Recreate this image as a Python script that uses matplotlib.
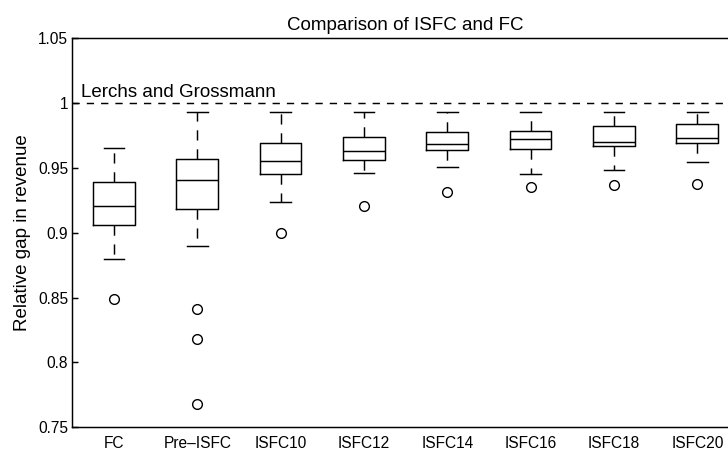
import matplotlib
matplotlib.use("Agg")
import matplotlib.pyplot as plt

plt.rcParams['font.family'] = ['Liberation Sans', 'DejaVu Sans']

# Box-plot summary of the relative revenue gap for each method
categories = ["FC", "Pre\u2013ISFC", "ISFC10", "ISFC12", "ISFC14", "ISFC16", "ISFC18", "ISFC20"]
q1 = [0.9062, 0.9180, 0.9454, 0.9559, 0.9638, 0.9646, 0.9669, 0.9690]
medians = [0.9205, 0.9405, 0.9556, 0.9633, 0.9685, 0.9721, 0.9703, 0.9731]
q3 = [0.9390, 0.9570, 0.9690, 0.9741, 0.9777, 0.9782, 0.9826, 0.9836]
whisker_low = [0.8795, 0.8895, 0.9236, 0.9464, 0.9508, 0.9454, 0.9485, 0.9546]
whisker_high = [0.9654, 0.9928, 0.9928, 0.9928, 0.9928, 0.9928, 0.9928, 0.9928]
outliers = [[0.849], [0.8413, 0.8182, 0.7682], [0.8998], [0.9208],
            [0.9313], [0.9356], [0.9367], [0.9377]]

reference_value = 1.0
reference_label = "Lerchs and Grossmann"

y_ticks = [0.75, 0.8, 0.85, 0.9, 0.95, 1.0, 1.05]
y_tick_labels = ["0.75", "0.8", "0.85", "0.9", "0.95", "1", "1.05"]

stats = []
for i, name in enumerate(categories):
    stats.append(dict(label=name, q1=q1[i], med=medians[i], q3=q3[i],
                      whislo=whisker_low[i], whishi=whisker_high[i],
                      fliers=outliers[i]))

fig = plt.figure(figsize=(7.28, 4.51), dpi=100)
ax = fig.add_axes([72.3 / 728, (451 - 427.3) / 451, (739 - 72.3) / 728, (427.3 - 38.3) / 451])

lw = 1.05
positions = list(range(1, len(categories) + 1))
ax.bxp(stats, positions=positions, widths=0.5, capwidths=0.25,
       boxprops=dict(color='black', linewidth=lw),
       medianprops=dict(color='black', linewidth=lw),
       whiskerprops=dict(color='black', linewidth=lw, linestyle=(0, (7, 6))),
       capprops=dict(color='black', linewidth=lw),
       flierprops=dict(marker='o', markersize=7, markerfacecolor='none',
                       markeredgecolor='black', markeredgewidth=1.0))

ax.axhline(reference_value, color='black', linewidth=lw, linestyle=(0, (5, 4.8)))
ax.text(0.6, reference_value + 0.0045, reference_label, fontsize=13.5,
        ha='left', va='baseline')

ax.set_xlim(0.5, len(categories) + 0.5)
ax.set_ylim(0.75, 1.05)
ax.set_yticks(y_ticks)
ax.set_yticklabels(y_tick_labels)
ax.set_xticks(positions)
ax.set_xticklabels(categories)
ax.tick_params(axis='y', direction='in', length=4, width=lw, pad=3, labelsize=11.2)
ax.tick_params(axis='x', length=0, pad=6, labelsize=11.2)

for sp in ax.spines.values():
    sp.set_linewidth(lw)

ax.set_title("Comparison of ISFC and FC", fontsize=13.5, pad=6)
ax.set_ylabel("Relative gap in revenue", fontsize=13.5, labelpad=5)

fig.savefig("out.png", dpi=100)
